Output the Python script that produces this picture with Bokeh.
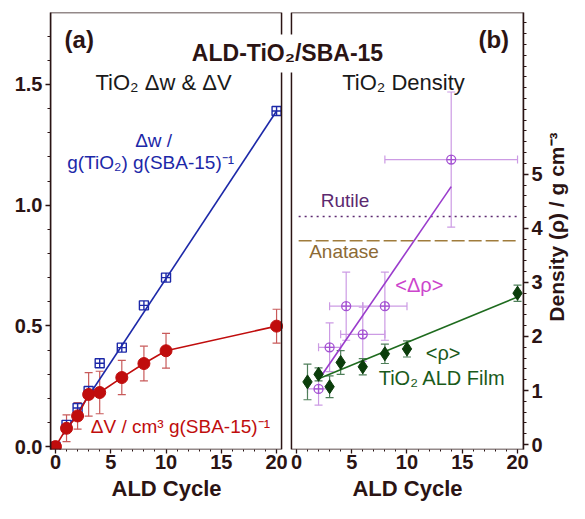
import math
from bokeh.plotting import figure
from bokeh.layouts import row
from bokeh.models import (ColumnDataSource, Whisker, TeeHead, Label, FixedTicker,
                          Range1d, PrintfTickFormatter, LinearAxis, BoxAnnotation,
                          CustomJSTickFormatter)
from bokeh.embed import file_html
from bokeh.resources import INLINE

# ---------------- data ----------------
cycles = [0, 1, 2, 3, 4, 6, 8, 10, 20]
dw = [0.0, 0.09, 0.16, 0.23, 0.345, 0.41, 0.585, 0.70, 1.39]
dv = [0.0, 0.076, 0.127, 0.216, 0.224, 0.286, 0.344, 0.397, 0.499]
dv_err = [0.0, 0.055, 0.055, 0.09, 0.088, 0.071, 0.072, 0.072, 0.07]
dw_fit_x = [0.7, 20]
dw_fit_y = [0.05, 1.39]

drho_x = [2, 3, 4.5, 6, 8, 14]
drho = [1.03, 1.80, 2.56, 2.04, 2.56, 5.27]
drho_yerr = [0.30, 0.45, 0.63, 0.50, 0.63, 1.25]
drho_xerr = [1, 1, 1.5, 2, 2, 6]
drho_fit_x = [2.15, 14]
drho_fit_y = [1.24, 4.77]

rho_x = [1, 2, 3, 4, 6, 8, 10, 20]
rho = [1.16, 1.30, 1.07, 1.52, 1.44, 1.68, 1.77, 2.80]
rho_err = [0.33, 0.12, 0.20, 0.22, 0.15, 0.18, 0.15, 0.15]
rho_fit_x = [2, 20]
rho_fit_y = [1.22, 2.73]

rutile = 4.22
anatase = 3.77
ref_x = [0.2, 20]

x_ticks = [0, 5, 10, 15, 20]
x_minor = [0, 1, 2, 3, 4, 5, 6, 7, 8, 9, 10, 11, 12, 13, 14, 15, 16, 17, 18, 19, 20]
left_ticks = [0.0, 0.5, 1.0, 1.5]
left_minor = [0.0, 0.1, 0.2, 0.3, 0.4, 0.5, 0.6, 0.7, 0.8, 0.9, 1.0, 1.1, 1.2, 1.3,
              1.4, 1.5, 1.6, 1.7, 1.8]
right_ticks = [0, 1, 2, 3, 4, 5]
right_minor = [0, 0.2, 0.4, 0.6, 0.8, 1, 1.2, 1.4, 1.6, 1.8, 2, 2.2, 2.4, 2.6, 2.8, 3,
               3.2, 3.4, 3.6, 3.8, 4, 4.2, 4.4, 4.6, 4.8, 5, 5.2, 5.4, 5.6, 5.8, 6,
               6.2, 6.4, 6.6, 6.8, 7, 7.2, 7.4, 7.6, 7.8, 8]
x_title = "ALD Cycle"
y2_title = "Density (ρ) / g cm⁻³"

# ---------------- style ----------------
FONT = "Liberation Sans"
DARK = "#2b1414"
BLUE = "#1c28a8"
RED = "#c00d0d"
RED_ERR = "#c85a5a"
PURPLE = "#a452d2"
PURPLE_LINE = "#9a3ccc"
PURPLE_ERR = "#cc9be4"
MAGENTA = "#cc44cc"
GREEN = "#0b3d0b"
GREEN_LINE = "#1e6b1e"
GREEN_TXT = "#1a5a1a"
GREEN_ERR = "#4f7f5a"
RUTILE_C = "#5c2a70"
ANATASE_C = "#a07c3c"
ANATASE_T = "#8c6a34"

# ---------------- geometry (one figure, two panels) ----------------
# reference geometry, used to place texts in data units
FRAME_L, FRAME_R, FRAME_T, FRAME_B = 54, 531, 15, 453
FW = FRAME_R - FRAME_L
FH = FRAME_B - FRAME_T
K = 233 / 20.9                      # px per ALD cycle (both panels)
R_OFF = 243                         # px from frame left to panel (b) left edge
XL = (-0.45, -0.45 + FW / K)        # panel (a) cycles on the default x range
XR = (-0.45 - R_OFF / K, -0.45 + (FW - R_OFF) / K)   # panel (b) cycles
SHIFT = R_OFF / K
XL_END = 20.45
YL = (-0.012, 1.798)
YR = (-0.09, 7.99)

# page geometry
LAB_W = 24
H = 503
W = 569 - LAB_W
B_LEFT, B_RIGHT, B_TOP = 50, 20, 12
B_BOTTOM = H - B_TOP - FH


def L(sx, sy):
    return (XL[0] + (sx - FRAME_L) / K,
            YL[1] - (sy - FRAME_T) / FH * (YL[1] - YL[0]))


def R(sx, sy):
    return (XR[0] + (sx - FRAME_L) / K,
            YR[1] - (sy - FRAME_T) / FH * (YR[1] - YR[0]))


p = figure(width=W, height=H, x_range=Range1d(*XL), y_range=Range1d(*YL),
           output_backend="svg", toolbar_location=None,
           min_border_left=B_LEFT, min_border_right=B_RIGHT,
           min_border_top=B_TOP, min_border_bottom=B_BOTTOM)
p.extra_x_ranges = {"r": Range1d(*XR)}
p.extra_y_ranges = {"r": Range1d(*YR)}
p.grid.visible = False
p.outline_line_color = None
p.background_fill_color = "white"
p.border_fill_color = "white"


def style_axis(ax, tick_out, standoff, size="20px"):
    ax.axis_line_color = DARK
    ax.axis_line_width = 1.5
    ax.major_tick_line_color = DARK
    ax.minor_tick_line_color = DARK
    ax.major_tick_line_width = 1.3
    ax.minor_tick_line_width = 1.0
    ax.major_tick_out = tick_out
    ax.major_tick_in = 0
    ax.minor_tick_out = 3
    ax.minor_tick_in = 0
    ax.major_label_text_font = FONT
    ax.major_label_text_font_style = "bold"
    ax.major_label_text_font_size = size
    ax.major_label_text_color = DARK
    ax.major_label_standoff = standoff


def title_axis(ax, size):
    style_axis(ax, 0, 0, size)
    ax.axis_line_color = None
    ax.major_tick_line_color = None
    ax.minor_tick_line_color = None


# right tick axis (panel b)
p.add_layout(LinearAxis(y_range_name="r"), "right")
for ax in p.yaxis:
    style_axis(ax, 5, 3)
p.yaxis[0].ticker = FixedTicker(ticks=left_ticks, minor_ticks=left_minor)
p.yaxis[0].formatter = PrintfTickFormatter(format="%.1f")
p.yaxis[1].ticker = FixedTicker(ticks=right_ticks, minor_ticks=right_minor)

# bottom tick axis shared by both panels
style_axis(p.xaxis[0], 4, 1)
p.xaxis[0].minor_tick_out = 2
p.xaxis[0].axis_line_color = None
p.xaxis[0].ticker = FixedTicker(ticks=x_ticks + [c + SHIFT for c in x_ticks],
                                minor_ticks=x_minor + [c + SHIFT for c in x_minor])
p.xaxis[0].formatter = CustomJSTickFormatter(
    args=dict(shift=SHIFT),
    code="return String(Math.round(tick > 20.5 ? tick - shift : tick));")

# bottom title axis: one tick under the middle of each panel
xt = LinearAxis(ticker=FixedTicker(ticks=[L(171, 0)[0], R(414, 0)[0] + SHIFT]),
                formatter=CustomJSTickFormatter(args=dict(t=x_title),
                                                code="return t;"))
title_axis(xt, "22px")
xt.major_label_standoff = 4
p.add_layout(xt, "below")

# panel frames
p.add_layout(BoxAnnotation(left=XL[0], right=XL_END, bottom=YL[0], top=YL[1],
                           fill_color=None, fill_alpha=0, line_color=DARK,
                           line_alpha=1.0, line_width=1.5))
p.add_layout(BoxAnnotation(left=-0.45, right=XR[1], bottom=YR[0], top=YR[1],
                           x_range_name="r", y_range_name="r",
                           fill_color=None, fill_alpha=0, line_color=DARK,
                           line_alpha=1.0, line_width=1.5))


def add_label(xy, text, size, color, bold=False, align="center",
              baseline="middle", angle=0.0, right=False, fig=None):
    kw = dict(x_range_name="r", y_range_name="r") if right else {}
    lab = Label(x=xy[0], y=xy[1], text=text, text_font=FONT,
                text_font_size=size, text_color=color,
                text_font_style="bold" if bold else "normal",
                text_align=align, text_baseline=baseline, angle=angle, **kw)
    (fig or p).add_layout(lab)
    return lab


def whisker(src, base, up, lo, dim, color, right=False):
    kw = dict(x_range_name="r", y_range_name="r") if right else {}
    p.add_layout(Whisker(source=src, base=base, upper=up, lower=lo,
                         dimension=dim, line_color=color, line_width=1.2,
                         upper_head=TeeHead(size=8, line_color=color, line_width=1.2),
                         lower_head=TeeHead(size=8, line_color=color, line_width=1.2),
                         level="underlay", **kw))


# ---------------- panel (a) ----------------
src_dv = ColumnDataSource(dict(
    x=cycles, y=dv,
    lo=[v - e for v, e in zip(dv, dv_err)],
    hi=[v + e for v, e in zip(dv, dv_err)]))
whisker(src_dv, "x", "hi", "lo", "height", RED_ERR)

p.line(dw_fit_x, dw_fit_y, line_color=BLUE, line_width=1.6)
p.scatter(cycles, dw, marker="square_cross", size=9, fill_color=None,
          line_color=BLUE, line_width=1.4)
p.line(cycles, dv, line_color=RED, line_width=1.6)
p.scatter(cycles, dv, marker="circle", size=12, fill_color=RED, line_color=RED)

# ---------------- panel (b) ----------------
src_dr = ColumnDataSource(dict(
    x=drho_x, y=drho,
    lo=[v - e for v, e in zip(drho, drho_yerr)],
    hi=[v + e for v, e in zip(drho, drho_yerr)],
    xlo=[v - e for v, e in zip(drho_x, drho_xerr)],
    xhi=[v + e for v, e in zip(drho_x, drho_xerr)]))
whisker(src_dr, "x", "hi", "lo", "height", PURPLE_ERR, right=True)
whisker(src_dr, "y", "xhi", "xlo", "width", PURPLE_ERR, right=True)

src_r = ColumnDataSource(dict(
    x=rho_x, y=rho,
    lo=[v - e for v, e in zip(rho, rho_err)],
    hi=[v + e for v, e in zip(rho, rho_err)]))
whisker(src_r, "x", "hi", "lo", "height", GREEN_ERR, right=True)

RK = dict(x_range_name="r", y_range_name="r")
p.line(ref_x, [rutile, rutile], line_color=RUTILE_C, line_width=1.5,
       line_dash="2 4", **RK)
p.line(ref_x, [anatase, anatase], line_color=ANATASE_C, line_width=1.5,
       line_dash="13 4", **RK)
p.line(drho_fit_x, drho_fit_y, line_color=PURPLE_LINE, line_width=1.6, **RK)
p.scatter(drho_x, drho, marker="circle_cross", size=9, fill_color=None,
          line_color=PURPLE, line_width=1.3, **RK)
p.line(rho_fit_x, rho_fit_y, line_color=GREEN_LINE, line_width=1.6, **RK)
p.scatter(rho_x, rho, marker="diamond", size=14, fill_color=GREEN,
          line_color=GREEN, **RK)

# ---------------- texts inside the frame ----------------
add_label(L(83, 42), "(a)", "24px", DARK, bold=True)
add_label(L(168, 85), "TiO₂ Δw & ΔV", "22px", "#1a1a1a")
add_label(L(158, 143), "Δw /", "19px", BLUE)
add_label(L(155, 165), "g(TiO₂) g(SBA-15)⁻¹", "19px", BLUE)
add_label(L(185, 430), "ΔV / cm³ g(SBA-15)⁻¹", "19px", RED)

add_label(R(501, 42), "(b)", "24px", DARK, bold=True, right=True)
add_label(R(410, 85), "TiO₂ Density", "22px", "#1a1a1a", right=True)
add_label(R(351, 203), "Rutile", "19px", RUTILE_C, right=True)
add_label(R(350, 255), "Anatase", "19px", ANATASE_T, right=True)
add_label(R(426, 288), "<Δρ>", "20px", MAGENTA, right=True)
add_label(R(450, 356), "<ρ>", "20px", GREEN_TXT, right=True)
add_label(R(449, 381), "TiO₂ ALD Film", "20px", GREEN_TXT, right=True)

title = add_label(L(293, 56), "ALD-TiO₂/SBA-15", "23px", DARK, bold=True,
                  baseline="alphabetic")
title.background_fill_color = "white"
title.padding = 6

# ---------------- right-hand axis title in its own narrow strip ----------------
q = figure(width=LAB_W, height=H, x_range=Range1d(0, LAB_W), y_range=Range1d(0, H),
           output_backend="svg", toolbar_location=None,
           x_axis_type=None, y_axis_type=None,
           min_border_left=0, min_border_right=0, min_border_top=0,
           min_border_bottom=0)
q.grid.visible = False
q.outline_line_color = None
q.background_fill_color = "white"
q.border_fill_color = "white"
add_label((LAB_W / 2 - 1, H - 247), y2_title, "21px", DARK, bold=True,
          angle=math.pi / 2, fig=q)

layout = row(p, q, spacing=0)
open("out.html", "w").write(file_html(layout, INLINE))
